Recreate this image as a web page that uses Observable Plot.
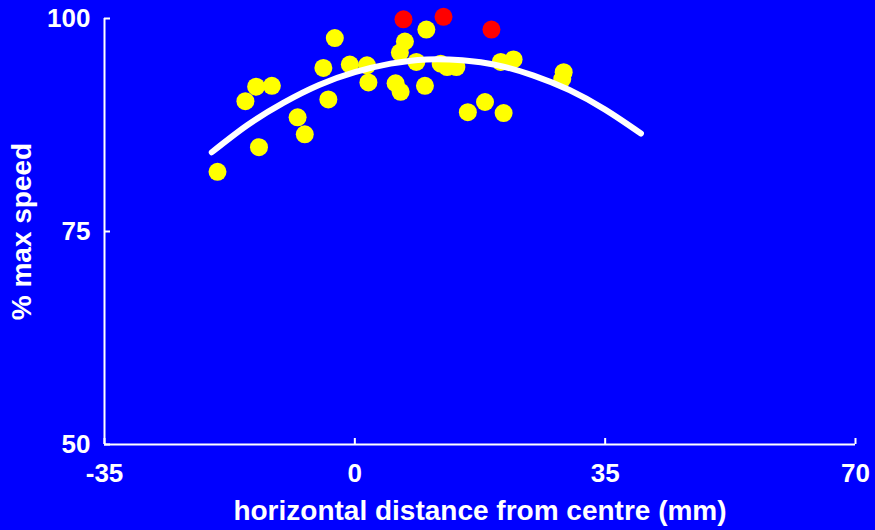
<!DOCTYPE html>
<html>
<head>
<meta charset="utf-8">
<script src="https://cdn.jsdelivr.net/npm/d3@7"></script>
<script src="https://cdn.jsdelivr.net/npm/@observablehq/plot@0.6"></script>
<style>
  html, body { margin: 0; padding: 0; background: #0000ff; }
  #chart { width: 875px; height: 530px; }
</style>
</head>
<body>
<div id="chart"></div>
<script>
// Yellow points: horizontal distance (mm), % max speed
const yellowX = [-19.2, -13.4, -15.3, -13.8, -11.6, -8.0, -7.0, -2.8, -4.4, -3.7,
                 -0.7, 1.7, 1.9, 5.7, 6.4, 6.3, 7.0, 8.6, 9.8, 10.0,
                 12.0, 12.9, 14.2, 15.8, 18.2, 20.8, 20.4, 22.2, 29.2, 29.0];
const yellowY = [82.0, 84.9, 90.3, 92.0, 92.1, 88.4, 86.4, 97.7, 94.2, 90.5,
                 94.6, 94.5, 92.5, 92.4, 91.4, 96.0, 97.3, 94.9, 92.1, 98.7,
                 94.7, 94.3, 94.3, 89.0, 90.2, 88.9, 94.9, 95.2, 93.7, 92.9];
// Red points
const redX = [6.8, 12.4, 19.1];
const redY = [99.9, 100.2, 98.7];
// Fitted curve
const curveX = [-20, -15, -10, -5, 0, 5, 10, 15, 20, 25, 30, 35, 40];
const curveY = [84.3, 87.5, 90.1, 92.2, 93.7, 94.7, 95.2, 95.1, 94.5, 93.3, 91.6, 89.3, 86.5];
// Axis ticks
const xTicks = [-35, 0, 35, 70];
const yTicks = [50, 75, 100];
const xLabel = "horizontal distance from centre (mm)";
const yLabel = "% max speed";

const yellow = yellowX.map((x, i) => ({x, y: yellowY[i]}));
const red = redX.map((x, i) => ({x, y: redY[i]}));
const curve = curveX.map((x, i) => ({x, y: curveY[i]}));

const font = "Liberation Sans, Arial, sans-serif";
const W = 875, H = 530, ML = 104, MR = 20, MT = 18, MB = 86;
const tickLen = 6;

const chart = Plot.plot({
  width: W,
  height: H,
  marginLeft: ML,
  marginRight: MR,
  marginTop: MT,
  marginBottom: MB,
  style: {background: "#0000ff", color: "white", fontFamily: font, fontWeight: "bold", fontSize: "26px", overflow: "visible"},
  x: {domain: [-35, 70]},
  y: {domain: [50, 100]},
  marks: [
    Plot.dot(yellow, {x: "x", y: "y", r: 9, fill: "#ffff00", stroke: null}),
    Plot.dot(red, {x: "x", y: "y", r: 9, fill: "#ff0000", stroke: null}),
    Plot.line(curve, {x: "x", y: "y", stroke: "white", strokeWidth: 6, curve: "natural"}),
    Plot.ruleX([-35], {stroke: "white", strokeWidth: 2}),
    Plot.ruleY([50], {stroke: "white", strokeWidth: 2}),
    Plot.tickY(yTicks, {y: d => d, stroke: "white", strokeWidth: 2, insetRight: (W - ML - MR) - tickLen}),
    Plot.tickX(xTicks, {x: d => d, stroke: "white", strokeWidth: 2, insetTop: (H - MT - MB) - tickLen}),
    Plot.axisY({ticks: yTicks, tickSize: 0, tickPadding: 14, tickFormat: d => String(d), label: null, fontSize: 26, fontWeight: "bold", fill: "white"}),
    Plot.axisX({ticks: xTicks, tickSize: 0, tickPadding: 19, tickFormat: d => String(d), label: null, fontSize: 26, fontWeight: "bold", fill: "white"}),
    Plot.text([xLabel], {frameAnchor: "bottom", lineAnchor: "middle", textAnchor: "middle", dy: 67, fontSize: 28, fontWeight: "bold", fill: "white"}),
    Plot.text([yLabel], {frameAnchor: "left", lineAnchor: "middle", textAnchor: "middle", dx: -82, rotate: -90, fontSize: 28, fontWeight: "bold", fill: "white"})
  ]
});
document.getElementById("chart").appendChild(chart);
</script>
</body>
</html>
